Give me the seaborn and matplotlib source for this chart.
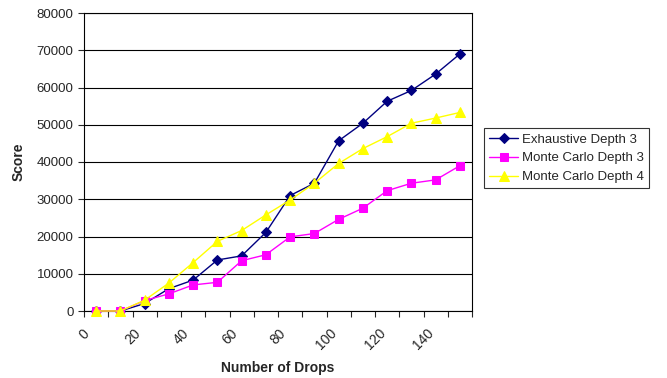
import numpy as np
import pandas as pd
import seaborn as sns
import matplotlib.pyplot as plt
from matplotlib.ticker import MultipleLocator

sns.set_style("white")
plt.rcParams['font.family'] = ['Liberation Sans', 'DejaVu Sans']

drops = [5, 15, 25, 35, 45, 55, 65, 75, 85, 95, 105, 115, 125, 135, 145, 155]
exhaustive_d3 = [0, 0, 2000, 6000, 8300, 13700, 14800, 21100, 31000, 34300,
                 45700, 50400, 56300, 59200, 63600, 69000]
monte_carlo_d3 = [0, 0, 2800, 4600, 7000, 7700, 13500, 15100, 19900, 20800,
                  24600, 27600, 32300, 34300, 35200, 39000]
monte_carlo_d4 = [0, 0, 2900, 7500, 13000, 18700, 21600, 25800, 29800, 34300,
                  39600, 43600, 46800, 50400, 51800, 53300]
x_tick_labels = ["0", "20", "40", "60", "80", "100", "120", "140"]
series_names = ["Exhaustive Depth 3", "Monte Carlo Depth 3", "Monte Carlo Depth 4"]

df = pd.DataFrame({"drops": drops,
                   series_names[0]: exhaustive_d3,
                   series_names[1]: monte_carlo_d3,
                   series_names[2]: monte_carlo_d4})
long_df = df.melt(id_vars="drops", var_name="series", value_name="score")

palette = {series_names[0]: "#000080", series_names[1]: "#FF00FF", series_names[2]: "#FFFF00"}
markers = {series_names[0]: "D", series_names[1]: "s", series_names[2]: "^"}
sizes = {series_names[0]: 5, series_names[1]: 6, series_names[2]: 7.5}

fig = plt.figure(figsize=(6.67, 3.78), dpi=100)
ax = fig.add_axes([84 / 667, 1 - 311 / 378, (472 - 84) / 667, (311 - 13) / 378])

for name in series_names:
    sub = long_df[long_df["series"] == name]
    sns.lineplot(data=sub, x="drops", y="score", color=palette[name],
                 marker=markers[name], markersize=sizes[name], markeredgecolor=palette[name],
                 linewidth=1.0, label=name, ax=ax, clip_on=False, zorder=3)

ax.set_xlim(0, 160)
ax.set_ylim(0, 80000)
ax.xaxis.set_minor_locator(MultipleLocator(10))
ax.yaxis.set_major_locator(MultipleLocator(10000))
ax.set_xticks(range(0, 141, 20))
ax.set_xticklabels(x_tick_labels, rotation=45, ha="center", va="top", fontsize=10)
ax.tick_params(axis="y", labelsize=9.5, length=4, width=0.8, direction="out", left=True)
ax.tick_params(axis="x", which="both", length=4, width=0.8, direction="out", bottom=True, pad=7)
ax.grid(axis="y", color="black", linewidth=0.8)
ax.set_axisbelow(True)
for sp in ax.spines.values():
    sp.set_color("black")
    sp.set_linewidth(0.8)

ax.set_xlabel("Number of Drops", fontsize=10, fontweight="bold", labelpad=6)
ax.set_ylabel("Score", fontsize=10, fontweight="bold", labelpad=8)

leg = ax.legend(loc="upper left", bbox_to_anchor=(484 / 667, 1 - 128 / 378),
                bbox_transform=fig.transFigure, frameon=True, fancybox=False,
                fontsize=9.5, borderpad=0.4, labelspacing=0.5, handlelength=2.2,
                handletextpad=0.3, borderaxespad=0)
leg.get_frame().set_edgecolor("black")
leg.get_frame().set_linewidth(0.8)

fig.savefig("out.png", dpi=100)
